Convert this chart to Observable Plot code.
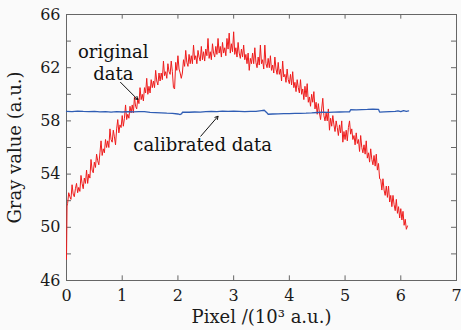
<!DOCTYPE html>
<html><head><meta charset="utf-8">
<script src="https://cdn.jsdelivr.net/npm/d3@7"></script>
<script src="https://cdn.jsdelivr.net/npm/@observablehq/plot@0.6"></script>
<style>body{margin:0;background:#fafafa;} svg{display:block} svg text{font-family:"DejaVu Serif",serif;}</style>
</head><body><div id="chart"></div>
<script>
// Original data (red)
const pixelOriginal = [0,0.01,0.02,0.04,0.06,0.08,0.10,0.12,0.14,0.16,0.18,0.20,
0.22,0.24,0.26,0.28,0.30,0.32,0.34,0.36,0.38,0.40,
0.42,0.44,0.46,0.48,0.50,0.52,0.54,0.56,0.58,0.60,
0.62,0.64,0.66,0.68,0.70,0.72,0.74,0.76,0.78,0.80,
0.82,0.84,0.86,0.88,0.90,0.92,0.94,0.96,0.98,1.00,
1.02,1.04,1.06,1.08,1.10,1.12,1.14,1.16,1.18,1.20,
1.22,1.24,1.26,1.28,1.30,1.32,1.34,1.36,1.38,1.40,
1.42,1.44,1.46,1.48,1.50,1.52,1.54,1.56,1.58,1.60,
1.62,1.64,1.66,1.68,1.70,1.72,1.74,1.76,1.78,1.80,
1.82,1.84,1.86,1.88,1.90,1.92,1.94,1.96,1.98,2.00,
2.02,2.04,2.06,2.08,2.10,2.12,2.14,2.16,2.18,2.20,
2.22,2.24,2.26,2.28,2.30,2.32,2.34,2.36,2.38,2.40,
2.42,2.44,2.46,2.48,2.50,2.52,2.54,2.56,2.58,2.60,
2.62,2.64,2.66,2.68,2.70,2.72,2.74,2.76,2.78,2.80,
2.82,2.84,2.86,2.88,2.90,2.92,2.94,2.96,2.98,3.00,
3.02,3.04,3.06,3.08,3.10,3.12,3.14,3.16,3.18,3.20,
3.22,3.24,3.26,3.28,3.30,3.32,3.34,3.36,3.38,3.40,
3.42,3.44,3.46,3.48,3.50,3.52,3.54,3.56,3.58,3.60,
3.62,3.64,3.66,3.68,3.70,3.72,3.74,3.76,3.78,3.80,
3.82,3.84,3.86,3.88,3.90,3.92,3.94,3.96,3.98,4.00,
4.02,4.04,4.06,4.08,4.10,4.12,4.14,4.16,4.18,4.20,
4.22,4.24,4.26,4.28,4.30,4.32,4.34,4.36,4.38,4.40,
4.42,4.44,4.46,4.48,4.50,4.52,4.54,4.56,4.58,4.60,
4.62,4.64,4.66,4.68,4.70,4.72,4.74,4.76,4.78,4.80,
4.82,4.84,4.86,4.88,4.90,4.92,4.94,4.96,4.98,5.00,
5.02,5.04,5.06,5.08,5.10,5.12,5.14,5.16,5.18,5.20,
5.22,5.24,5.26,5.28,5.30,5.32,5.34,5.36,5.38,5.40,
5.42,5.44,5.46,5.48,5.50,5.52,5.54,5.56,5.58,5.60,
5.62,5.64,5.66,5.68,5.70,5.72,5.74,5.76,5.78,5.80,
5.82,5.84,5.86,5.88,5.90,5.92,5.94,5.96,5.98,6.00,
6.02,6.04,6.06,6.08,6.10,6.12];
const grayOriginal = [47.6,51.6,51.8,52.6,52.3,52.1,53.2,52.5,52.3,52.9,53.3,52.6,
53.0,52.7,53.9,53.3,52.9,53.7,53.3,54.3,53.3,54.0,
53.7,55.1,54.3,54.1,54.9,54.5,55.5,55.0,54.7,55.6,
56.5,55.4,55.9,55.6,56.6,56.0,56.5,56.0,57.4,56.6,
56.4,57.3,56.8,56.2,57.4,58.1,57.1,57.7,57.5,58.4,
57.6,58.2,59.2,58.1,58.5,58.2,59.1,58.6,59.2,58.6,
59.8,59.1,58.9,59.7,59.3,60.5,59.6,60.0,59.5,60.5,
60.1,61.2,60.0,60.6,60.1,61.1,60.5,61.0,60.5,61.8,
61.0,60.7,61.6,61.0,61.6,61.1,62.5,61.4,61.7,61.2,
62.3,61.7,61.5,62.5,61.7,60.5,60.4,62.4,61.8,62.9,
61.9,61.6,61.2,61.6,62.6,62.1,63.3,62.4,62.1,63.0,
62.3,62.9,62.3,63.7,62.6,62.9,62.3,63.3,62.8,62.5,
63.6,62.6,63.2,62.5,63.4,62.9,64.2,62.7,63.2,62.6,
63.8,63.1,62.8,63.6,63.0,64.2,63.1,63.6,62.8,63.9,
63.1,63.5,62.9,64.2,63.4,64.6,63.1,63.8,63.2,64.7,
63.0,63.5,62.8,63.9,63.1,62.7,63.4,62.8,63.7,62.6,
63.0,62.3,63.1,61.8,62.7,62.3,63.1,62.3,63.5,62.4,
62.0,62.8,62.2,63.7,62.3,62.6,61.9,63.7,62.3,62.0,
62.7,62.0,62.9,61.8,62.2,61.6,62.8,61.9,61.5,62.4,
61.5,61.9,61.0,62.5,61.3,61.5,60.9,61.9,61.1,60.8,
61.5,60.7,61.7,60.5,60.9,60.2,61.1,60.5,60.1,61.1,
60.0,60.4,59.6,60.6,59.8,60.8,59.4,59.8,59.1,60.0,
59.4,60.2,58.9,59.4,58.5,59.3,58.6,58.1,58.9,59.7,
58.4,58.0,58.6,58.0,58.9,57.3,58.2,57.6,58.4,57.7,
57.2,58.0,57.5,56.9,57.7,57.1,58.0,56.4,57.2,56.6,
57.3,56.5,57.5,58.0,57.0,57.4,56.6,56.9,56.2,57.1,
56.3,56.6,55.7,56.9,56.0,55.6,56.2,55.5,56.5,55.2,
55.6,54.9,55.9,55.1,54.7,55.4,54.6,55.5,54.3,54.8,
53.65,53.6,52.8,53.65,52.8,52.4,53.1,52.25,53.1,51.9,
52.4,51.55,52.4,51.7,51.25,52.1,51.05,51.55,50.7,51.4,
50.55,51.2,50.15,50.6,49.85,50.1];

// Calibrated data (blue)
const pixelCalibrated = [0,0.1,0.2,0.3,0.4,0.5,0.6,0.7,0.8,0.9,1.0,1.1,1.2,1.3,1.4,1.5,1.6,1.7,1.8,1.9,2.0,2.04,2.07,2.08,2.2,2.3,2.4,2.5,2.6,2.7,2.8,2.9,3.0,3.1,3.2,3.3,3.4,3.5,3.55,3.6,3.62,3.7,3.8,3.9,4.0,4.1,4.2,4.3,4.4,4.5,4.6,4.7,4.8,4.9,5.0,5.08,5.1,5.2,5.3,5.4,5.5,5.6,5.62,5.7,5.8,5.9,5.95,6.0,6.05,6.1,6.14];
const grayCalibrated = [58.72,58.70,58.74,58.71,58.69,58.72,58.68,58.70,58.66,58.69,58.67,58.70,58.68,58.70,58.69,58.64,58.62,58.60,58.58,58.57,58.52,58.48,58.55,58.66,58.65,58.67,58.66,58.70,58.72,58.70,58.73,58.71,58.74,58.72,58.70,58.71,58.72,58.78,58.80,58.60,58.50,58.52,58.53,58.55,58.54,58.56,58.57,58.58,58.60,58.63,58.65,58.64,58.66,58.67,58.68,58.68,58.84,58.83,58.85,58.86,58.88,58.87,58.66,58.68,58.70,58.72,58.76,58.70,58.78,58.72,58.75];

// Axes
const xTicks = [0,1,2,3,4,5,6,7];
const yTicks = [46,48,50,52,54,56,58,60,62,64,66];
const yTickLabels = [46,50,54,58,62,66];
const xTitle = "Pixel /(10³ a.u.)";
const yTitle = "Gray value (a.u.)";

// Annotations
const originalLabel = "original\ndata";
const originalLabelPos = [0.84, 62.45];
const calibratedLabel = "calibrated data";
const calibratedLabelPos = [1.2, 56.15];
const arrowFrom = [[0.97, 60.9], [2.41, 56.85]];
const arrowTo = [[1.28, 59.6], [2.72, 58.35]];

const red = pixelOriginal.map((x, i) => ({x, y: grayOriginal[i]}));
const blue = pixelCalibrated.map((x, i) => ({x, y: grayCalibrated[i]}));
const arrows = arrowFrom.map((f, i) => ({x1: f[0], y1: f[1], x2: arrowTo[i][0], y2: arrowTo[i][1]}));

const serif = "DejaVu Serif";
const frameColor = "#666";
const chart = Plot.plot({
  width: 461, height: 330,
  marginLeft: 66, marginRight: 5, marginTop: 14, marginBottom: 50,
  style: "background:#fafafa; font-family:'DejaVu Serif', serif; font-size:16px; color:#1a1a1a;",
  x: {domain: [0, 7]},
  y: {domain: [46, 66]},
  marks: [
    Plot.frame({stroke: frameColor}),
    Plot.ruleX(xTicks, {x: d => d, y1: 46, y2: 46.35, stroke: frameColor}),
    Plot.ruleX(xTicks, {x: d => d, y1: 66, y2: 65.65, stroke: frameColor}),
    Plot.ruleY(yTicks, {y: d => d, x1: 0, x2: 0.09, stroke: frameColor}),
    Plot.ruleY(yTicks, {y: d => d, x1: 7, x2: 6.91, stroke: frameColor}),
    Plot.axisX(xTicks, {tickSize: 0, tickPadding: 9, fontFamily: serif, fontSize: 16}),
    Plot.axisX({ticks: [], tickSize: 0, label: xTitle, labelAnchor: "center", labelOffset: 42, labelArrow: false, fontFamily: serif, fontSize: 18}),
    Plot.axisY(yTickLabels, {tickSize: 0, tickPadding: 6, fontFamily: serif, fontSize: 16}),
    Plot.axisY({ticks: [], tickSize: 0, label: yTitle, labelAnchor: "center", labelOffset: 58, labelArrow: false, fontFamily: serif, fontSize: 18}),
    Plot.line(red, {x: "x", y: "y", stroke: "#ee1c1c", strokeWidth: 1}),
    Plot.line(blue, {x: "x", y: "y", stroke: "#2f5db4", strokeWidth: 1.3}),
    Plot.arrow(arrows, {x1: "x1", y1: "y1", x2: "x2", y2: "y2", stroke: "#111", strokeWidth: 1, headLength: 5}),
    Plot.text([originalLabel], {x: originalLabelPos[0], y: originalLabelPos[1], text: d => d, textAnchor: "middle", lineHeight: 1.22, fontSize: 18, fontFamily: serif, fill: "#111"}),
    Plot.text([calibratedLabel], {x: calibratedLabelPos[0], y: calibratedLabelPos[1], text: d => d, textAnchor: "start", fontSize: 18, fontFamily: serif, fill: "#111"})
  ]
});
document.getElementById("chart").append(chart);
</script>
</body></html>
